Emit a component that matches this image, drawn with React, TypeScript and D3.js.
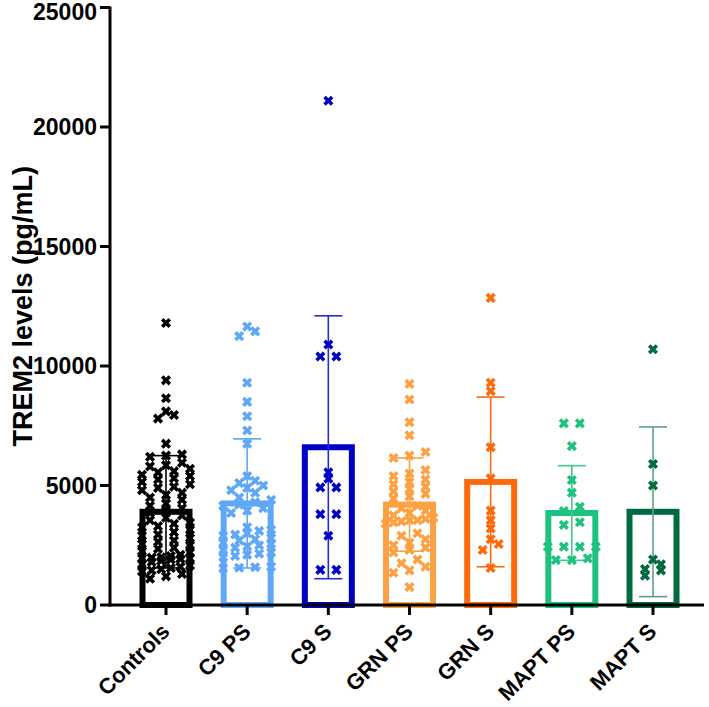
import React from "react";
import * as d3 from "d3";

const categories = ["Controls", "C9 PS", "C9 S", "GRN PS", "GRN S", "MAPT PS", "MAPT S"];
const colors = ["#000000", "#5fa8f7", "#0000c4", "#ffa043", "#ff6a0c", "#1ec27e", "#006b3f"];
const errColors = ["#000000", "#5fa8f7", "#2a2ad0", "#ffa043", "#ff6a0c", "#3fcb8e", "#5fa184"];
const means = [3900, 4250, 6600, 4200, 5150, 3850, 3900];
const sds = [2350, 2700, 5500, 1950, 3550, 1980, 3550];
const yTicks = [0, 5000, 10000, 15000, 20000, 25000];

const controls = [
  11800, 9400, 8650, 8100, 7950, 7800, 6750,
  6300, 6250, 6200,
  5950, 5850, 5800, 5700, 5600, 5550, 5450, 5400, 5300, 5250,
  5150, 5050, 4950, 4900, 4800, 4700, 4600, 4500, 4400, 4250, 4150, 4050,
  3950, 3850, 3750, 3650, 3550, 3450, 3400, 3300, 3250, 3150,
  3050, 2950, 2900, 2800, 2700, 2650, 2550, 2500, 2400, 2350, 2250, 2200, 2100, 2050,
  2000, 1980, 1960, 1950, 1930, 1900, 1850, 1800, 1700, 1650, 1600, 1550, 1500,
  1450, 1400, 1300, 1200, 1100,
];
const c9ps = [
  11650, 11450, 11250, 9300, 8500, 7900, 7300, 6750,
  5400, 5200, 5100, 5000, 4900, 4800, 4700,
  4500, 4400, 4300, 4200, 4150, 4050, 3950, 3850,
  3250, 3150, 3100, 3000, 2950, 2900, 2800, 2750, 2700, 2600, 2550, 2500, 2450, 2400, 2300, 2200, 2150, 2100, 2050, 2000,
  1600, 1580, 1560, 1540,
];
const c9s = [21100, 10900, 10400, 10400, 5550, 5280, 4920, 4920, 3800, 3800, 2900, 1470, 1470];
const grnps = [
  9250, 8600, 7650, 7100, 6400, 6250, 6150,
  5650, 5500, 5400, 5250, 5150, 5050, 4950, 4850, 4750, 4650, 4550, 4450,
  4150, 4050, 3950, 3850, 3750, 3650, 3600, 3550, 3550, 3500, 3450, 3400,
  3000, 2900, 2750, 2600, 2500, 2400, 2300, 2200,
  1900, 1750, 1600, 1450, 1350,
  750,
];
const grns = [12850, 9300, 8950, 6600, 5300, 3950, 3550, 3200, 2750, 2550, 2300, 1550];
const maptps = [7600, 7600, 6650, 5230, 4700, 4110, 3930, 3460, 3350, 2440, 2440, 2440, 2440, 1950, 1880, 1880];
const mapts = [10700, 5900, 5000, 1900, 1700, 1500, 1450, 1230];
const groups = [controls, c9ps, c9s, grnps, grns, maptps, mapts];

const W = 709;
const H = 707;
const x = d3.scalePoint<string>().domain(categories).range([166, 653]);
const y = d3.scaleLinear().domain([0, 25000]).range([605, 7.5]);
const axisLeft = 110;
const axisRight = 704;
const halfBar = 23.5;

const crossPath = d3.symbol().type(d3.symbolCross).size(64)() as string;

function swarm(values: number[]) {
  const sorted = [...values].sort((a, b) => a - b);
  const rows: number[][] = [];
  let cur: number[] = [];
  let start = 0;
  sorted.forEach((v) => {
    const py = y(v);
    if (cur.length === 0) {
      cur = [v];
      start = py;
    } else if (Math.abs(start - py) < 6) {
      cur.push(v);
    } else {
      rows.push(cur);
      cur = [v];
      start = py;
    }
  });
  if (cur.length) rows.push(cur);
  const out: { v: number; dx: number }[] = [];
  rows.forEach((r) => {
    const n = r.length;
    const sp = n > 1 ? Math.min(16, 48 / (n - 1)) : 0;
    r.forEach((v, i) => out.push({ v, dx: (i - (n - 1) / 2) * sp }));
  });
  return out;
}

export default function App() {
  const font = "'Liberation Sans', Arial, Helvetica, sans-serif";
  return (
    <svg width={W} height={H} style={{ position: "absolute", left: 0, top: 0, background: "#fff" }} fontFamily={font}>
      {categories.map((c, i) => {
        const cx = x(c)!;
        return (
          <g key={c}>
            <rect x={cx - halfBar} y={y(means[i])} width={halfBar * 2} height={y(0) - y(means[i])} fill="none" stroke={colors[i]} strokeWidth={6} />
            <g stroke={errColors[i]} strokeWidth={1.6}>
              <line x1={cx} x2={cx} y1={y(means[i] + sds[i])} y2={y(Math.max(0, means[i] - sds[i]))} />
              <line x1={cx - 14} x2={cx + 14} y1={y(means[i] + sds[i])} y2={y(means[i] + sds[i])} />
              <line x1={cx - 14} x2={cx + 14} y1={y(Math.max(0, means[i] - sds[i]))} y2={y(Math.max(0, means[i] - sds[i]))} />
            </g>
            {swarm(groups[i]).map((p, j) => (
              <path key={j} d={crossPath} transform={`translate(${cx + p.dx},${y(p.v)}) rotate(45)`} fill={colors[i]} />
            ))}
          </g>
        );
      })}
      <line x1={axisLeft} x2={axisLeft} y1={y(25000) - 1} y2={y(0) + 1.5} stroke="#000" strokeWidth={3} />
      <line x1={axisLeft - 1.5} x2={axisRight} y1={y(0)} y2={y(0)} stroke="#000" strokeWidth={3} />
      {yTicks.map((t) => (
        <g key={t}>
          <line x1={axisLeft - 10} x2={axisLeft} y1={y(t)} y2={y(t)} stroke="#000" strokeWidth={3} />
          <text x={axisLeft - 13} y={Math.max(y(t), 12)} dy="0.36em" textAnchor="end" fontSize={23} fontWeight="bold">
            {t}
          </text>
        </g>
      ))}
      {categories.map((c) => (
        <g key={c}>
          <line x1={x(c)!} x2={x(c)!} y1={y(0)} y2={y(0) + 10} stroke="#000" strokeWidth={3} />
          <text transform={`translate(${x(c)! - 6},${622}) rotate(-45)`} textAnchor="end" dy="0.7em" fontSize={22} fontWeight="bold">
            {c}
          </text>
        </g>
      ))}
      <text transform={`translate(22,${(y(0) + y(25000)) / 2}) rotate(-90)`} textAnchor="middle" dy="0.36em" fontSize={27} fontWeight="bold">
        TREM2 levels (pg/mL)
      </text>
    </svg>
  );
}
